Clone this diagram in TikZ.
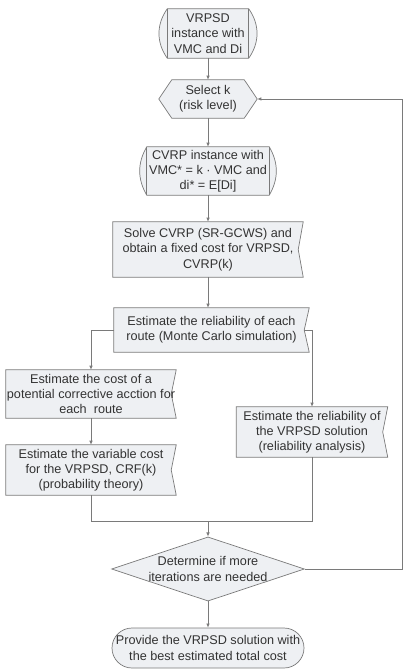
\documentclass[tikz,border=0pt]{standalone}
\usepackage{fontspec}
\setmainfont{Liberation Sans}
\usepackage{tikz}
\usetikzlibrary{calc,positioning,shapes.geometric,arrows.meta,backgrounds}

\definecolor{linegray}{HTML}{7A7A7A}
\definecolor{boxfill}{HTML}{EEF0F3}
\definecolor{txtgray}{HTML}{333333}

\begin{document}
\begin{tikzpicture}[
    base/.style={inner sep=0pt, align=center, text=txtgray, font=\fontsize{10.8}{13}\selectfont},
    outline/.style={draw=linegray, fill=boxfill, line width=0.6pt},
    dec/.style={base, diamond, aspect=3, minimum width=5.79cm, minimum height=1.92cm, draw=linegray, fill=boxfill, line width=0.6pt},
    term/.style={base, rectangle, rounded corners=0.6cm, minimum width=5.76cm, minimum height=1.2cm, draw=linegray, fill=boxfill, line width=0.6pt},
    arrow/.style={-{Latex[length=3.5pt,width=3pt]}, draw=linegray, line width=0.6pt},
    link/.style={draw=linegray, line width=0.6pt}
]
    \useasboundingbox (0,0) rectangle (12.18,-20.13);

    % nodes
    \node[base, minimum width=2.43cm, minimum height=1.47cm] (start) at (6.24,-1.005) {VRPSD\\instance with\\VMC and Di};
    \node[base, minimum width=2.94cm, minimum height=1.14cm] (sel) at (6.24,-2.97) {Select k\\(risk level)};
    \node[base, minimum width=3.66cm, minimum height=1.44cm] (cvrp) at (6.24,-5.13) {CVRP instance with\\VMC* = k · VMC and\\di* = E[Di]};
    \node[base, minimum width=5.7cm, minimum height=1.65cm] (solve) at (6.24,-7.485) {Solve CVRP (SR-GCWS) and\\obtain a fixed cost for VRPSD,\\CVRP(k)};
    \node[base, minimum width=5.85cm, minimum height=1.32cm] (rel) at (6.345,-9.9) {Estimate the reliability of each\\route (Monte Carlo simulation)};
    \node[base, minimum width=5.1cm, minimum height=1.44cm] (cost) at (2.73,-11.82) {Estimate the cost of a\\potential corrective acction for\\each~~route};
    \node[base, minimum width=5.1cm, minimum height=1.5cm] (var) at (2.73,-14.1) {Estimate the variable cost\\for the VRPSD, CRF(k)\\(probability theory)};
    \node[base, minimum width=4.53cm, minimum height=1.5cm] (relsol) at (9.36,-12.96) {Estimate the reliability of\\the VRPSD solution\\(reliability analysis)};
    \node[dec] (check) at (6.24,-17.07) {Determine if more\\iterations are needed};
    \node[term] (stop) at (6.24,-19.44) {Provide the VRPSD solution with\\the best estimated total cost};

    \coordinate (join) at (6.24,-15.63);
    \coordinate (back) at (12.06,0);

    % shapes behind the texts
    \begin{scope}[on background layer]
        \foreach \n/\b in {start/35,cvrp/30} {
            \draw[outline] (\n.north west) -- (\n.north east) to[bend left=\b] (\n.south east)
                -- (\n.south west) to[bend left=\b] cycle;
            \draw[link] (\n.north west) -- (\n.south west) (\n.north east) -- (\n.south east);
        }
        \draw[outline] (sel.west) -- ([xshift=0.39cm]sel.north west) -- ([xshift=-0.39cm]sel.north east)
            -- (sel.east) -- ([xshift=-0.39cm]sel.south east) -- ([xshift=0.39cm]sel.south west) -- cycle;
        \foreach \n in {solve,rel,cost,var,relsol} {
            \draw[outline] (\n.north west) -- (\n.north east) -- ([xshift=-0.15cm]\n.east)
                -- (\n.south east) -- (\n.south west) -- cycle;
        }
    \end{scope}

    % connectors
    \draw[arrow] (start) -- (sel);
    \draw[arrow] (sel) -- (cvrp);
    \draw[arrow] (cvrp) -- (solve);
    \draw[arrow] (solve.south) -- (solve.south |- rel.north);
    \draw[arrow] (rel.west) -| (cost.north);
    \draw[arrow] ([xshift=-0.15cm]rel.east) -| (relsol.north);
    \draw[arrow] (cost) -- (var);
    \draw[link] (var.south) |- (join);
    \draw[link] (relsol.south) |- (join);
    \draw[arrow] (join) -- (check);
    \draw[arrow] (check) -- (stop);
    \draw[arrow] (check.east) -- (check.east -| back) |- (sel.east);
\end{tikzpicture}
\end{document}
